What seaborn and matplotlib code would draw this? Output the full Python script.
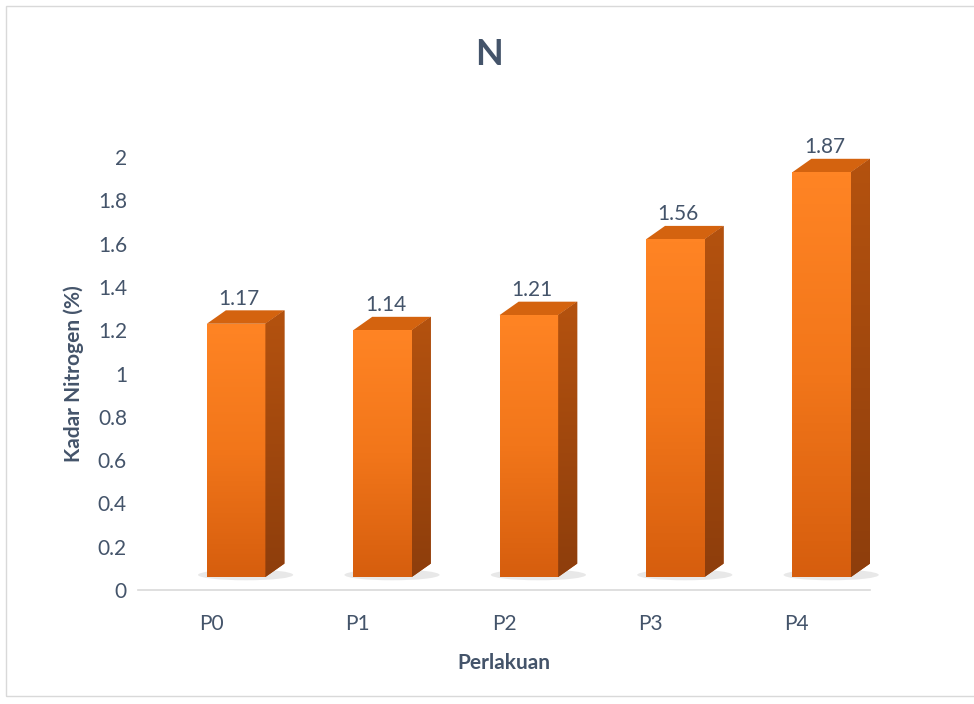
import numpy as np
import pandas as pd
import seaborn as sns
from matplotlib import pyplot as plt
from matplotlib.patches import Polygon, Rectangle, Ellipse
from matplotlib.colors import LinearSegmentedColormap

perlakuan = ['P0', 'P1', 'P2', 'P3', 'P4']
kadar_n = [1.17, 1.14, 1.21, 1.56, 1.87]
y_ticks = [0, 0.2, 0.4, 0.6, 0.8, 1, 1.2, 1.4, 1.6, 1.8, 2]

data = pd.DataFrame({'Perlakuan': perlakuan, 'Kadar': kadar_n})

sns.set_style('white')
plt.rcParams['font.family'] = ['Lato', 'DejaVu Sans']
txt = '#44546A'

fig = plt.figure(figsize=(9.74, 7.04), dpi=100)
ax = fig.add_axes([0.1417, 0.1619, 0.7515, 0.615])

sns.barplot(data=data, x='Perlakuan', y='Kadar', color='#F47A1F', width=0.40,
            ax=ax, saturation=1, zorder=3)

# 3d look: push bars back into the floor and add top + side faces
shift_x, lift = 0.17, 0.06
dx, dy = 0.13, 0.062
grad = LinearSegmentedColormap.from_list('g', ['#D65E0E', '#F2761A', '#FF8424'])
side_grad = LinearSegmentedColormap.from_list('s', ['#8E3E0C', '#B4520F'])
for p, v in zip(ax.patches, kadar_n):
    p.set_x(p.get_x() + shift_x)
    p.set_y(lift)
    x0, w, h = p.get_x(), p.get_width(), p.get_height()
    y1 = lift + h
    p.set_edgecolor('none')
    im = ax.imshow(np.linspace(0, 1, 100).reshape(-1, 1), cmap=grad, aspect='auto',
                   origin='lower', extent=[x0, x0 + w, lift, y1], zorder=3.1)
    im.set_clip_path(p)
    side = Polygon([[x0 + w, lift], [x0 + w + dx, lift + dy], [x0 + w + dx, y1 + dy], [x0 + w, y1]],
                   closed=True, facecolor='#A94B10', edgecolor='none', zorder=3)
    top = Polygon([[x0, y1], [x0 + dx, y1 + dy], [x0 + w + dx, y1 + dy], [x0 + w, y1]],
                  closed=True, facecolor='#D4630F', edgecolor='none', zorder=3)
    shadow = Ellipse((x0 + w / 2 + dx / 2, lift + 0.01), w + 0.25, 0.05,
                     facecolor='#BFBFBF', edgecolor='none', alpha=0.35, zorder=2)
    ax.add_patch(shadow)
    ax.add_patch(side)
    ax.add_patch(top)
    im2 = ax.imshow(np.linspace(0, 1, 100).reshape(-1, 1), cmap=side_grad, aspect='auto',
                    origin='lower', extent=[x0 + w, x0 + w + dx, lift, y1 + dy], zorder=3.1)
    im2.set_clip_path(side)
    for art in (side, top):
        art.set_clip_on(False)
    ax.text(x0 + w / 2 + 0.02, y1 + dy + 0.008, f'{v:.2f}', ha='center', va='bottom',
            fontsize=15, color=txt, zorder=5)

ax.set_xlim(-0.5, 4.5)
ax.set_ylim(0, 2)
ax.set_yticks(y_ticks)
ax.set_yticklabels([f'{t:g}' for t in y_ticks])
ax.tick_params(axis='both', length=0, labelsize=15, labelcolor=txt)
ax.tick_params(axis='x', pad=17)
ax.tick_params(axis='y', pad=8)
for s in ['top', 'right', 'left']:
    ax.spines[s].set_visible(False)
ax.spines['bottom'].set_color('#D9D9D9')
ax.spines['bottom'].set_linewidth(1.2)
for p in ax.patches:
    p.set_clip_on(False)

ax.set_xlabel('Perlakuan', fontsize=15, fontweight='bold', color=txt, labelpad=14)
ax.set_ylabel('Kadar Nitrogen (%)', fontsize=15, fontweight='bold', color=txt, labelpad=10)
fig.text(0.502, 0.923, 'N', ha='center', va='center', fontsize=26, fontweight='bold', color=txt)

fig.patches.append(Rectangle((0.006, 0.012), 1.2, 0.979, transform=fig.transFigure,
                             fill=False, edgecolor='#D9D9D9', linewidth=1))

fig.savefig('out.png', dpi=100, facecolor='white')
